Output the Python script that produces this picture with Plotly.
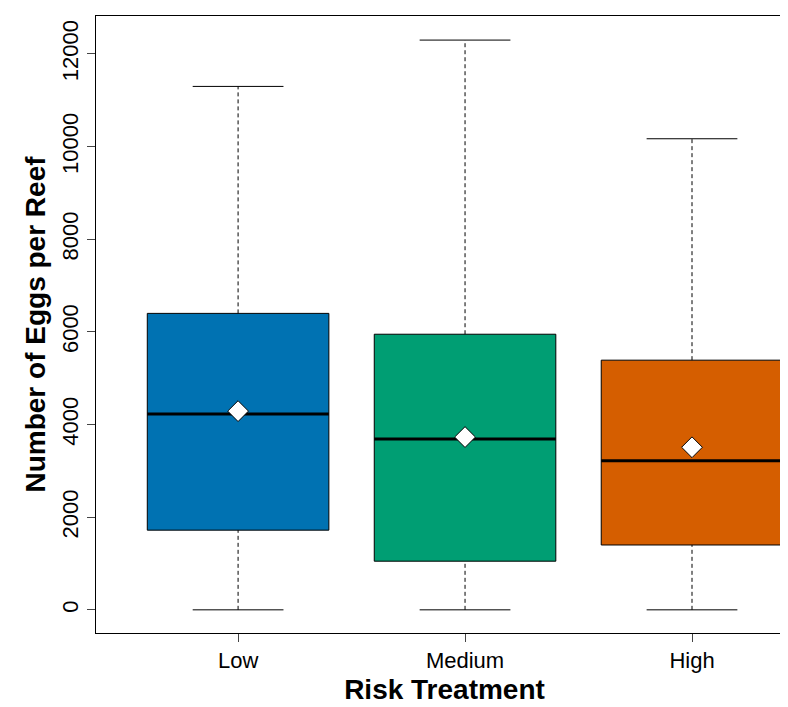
import plotly.graph_objects as go

groups = ["Low", "Medium", "High"]
lower = [0, 0, 0]
q1 = [1720, 1050, 1400]
median = [4230, 3690, 3220]
q3 = [6400, 5950, 5390]
upper = [11300, 12300, 10170]
means = [4290, 3730, 3510]
colors = ["#0072B2", "#009E73", "#D55E00"]
yticks = list(range(0, 12001, 2000))

xs = list(range(len(groups)))
fig = go.Figure()

# whiskers (dashed) and caps
for i in xs:
    for a, b in [(lower[i], q1[i]), (q3[i], upper[i])]:
        fig.add_trace(go.Scatter(x=[i, i], y=[a, b], mode="lines",
                                 line=dict(color="black", width=1, dash="4px,3px"),
                                 showlegend=False, hoverinfo="skip"))
    for v in (lower[i], upper[i]):
        fig.add_trace(go.Scatter(x=[i - 0.2, i + 0.2], y=[v, v], mode="lines",
                                 line=dict(color="black", width=1),
                                 showlegend=False, hoverinfo="skip"))

# boxes
fig.add_trace(go.Bar(x=xs, y=[b - a for a, b in zip(q1, q3)], base=q1, width=0.8,
                     marker=dict(color=colors, line=dict(color="black", width=1)),
                     showlegend=False))

# medians
for i in xs:
    fig.add_trace(go.Scatter(x=[i - 0.4, i + 0.4], y=[median[i], median[i]], mode="lines",
                             line=dict(color="black", width=3), showlegend=False))

# means
fig.add_trace(go.Scatter(x=xs, y=means, mode="markers",
                         marker=dict(symbol="diamond", size=16, color="white",
                                     line=dict(color="black", width=1)),
                         showlegend=False))

fig.update_layout(
    width=788, height=707, plot_bgcolor="white", paper_bgcolor="white",
    margin=dict(l=88, r=3, t=8, b=82, autoexpand=False),
    font=dict(family="Arial, Liberation Sans", color="black", size=22),
)
fig.update_xaxes(range=[-0.626, 2.445], tickvals=xs, ticktext=groups, automargin=False,
                 showline=True, mirror=True, linecolor="black", linewidth=1,
                 ticks="outside", ticklen=8, showgrid=False, zeroline=False,
                 title=dict(text="<b>Risk Treatment</b>", font=dict(size=28), standoff=6))
fig.update_yaxes(range=[-500, 12820], tickvals=yticks, ticktext=[str(v) for v in yticks],
                 tickangle=-90, automargin=False,
                 showline=True, mirror=True, linecolor="black", linewidth=1,
                 ticks="outside", ticklen=8, showgrid=False, zeroline=False,
                 title=dict(text="<b>Number of Eggs per Reef</b>", font=dict(size=28), standoff=4))

fig.write_html("out.html")
